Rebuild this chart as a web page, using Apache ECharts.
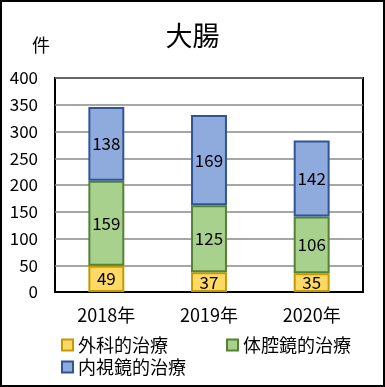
<!DOCTYPE html>
<html><head><meta charset="utf-8">
<script src="https://cdn.jsdelivr.net/npm/echarts@6/dist/echarts.min.js"></script>
<style>html,body{margin:0;padding:0;background:#fff}#c{width:385px;height:387px}</style>
</head><body><div id="c"></div>
<script>
const categories = ['2018年', '2019年', '2020年'];
const surgical = [49, 37, 35];
const laparoscopic = [159, 125, 106];
const endoscopic = [138, 169, 142];
const yTicks = [0, 50, 100, 150, 200, 250, 300, 350, 400];

const FONT = '"Noto Sans CJK JP", "Noto Sans", sans-serif';
const chart = echarts.init(document.getElementById('c'));
const label = {show: true, position: 'inside', color: '#000', fontSize: 17, fontFamily: FONT};
const legText = {fontSize: 18, color: '#000', fontFamily: FONT};
chart.setOption({
  animation: false,
  textStyle: {fontFamily: FONT},
  title: {text: '大腸', left: 'center', top: 17, textStyle: {fontSize: 27, fontWeight: 'normal', color: '#000', fontFamily: FONT}},
  graphic: [
    {type: 'rect', shape: {x: 1, y: 1, width: 383, height: 385}, style: {fill: 'none', stroke: '#000', lineWidth: 2}, z: 100},
    {type: 'text', left: 32, top: 36, style: {text: '件', fontSize: 18, fill: '#000', fontFamily: FONT}}
  ],
  grid: {left: 55, right: 22, top: 78, bottom: 95, show: true, borderColor: '#000', borderWidth: 2, backgroundColor: 'transparent'},
  legend: [
    {data: ['外科的治療'], left: 56, top: 331, itemWidth: 11, itemHeight: 11, icon: 'rect', textStyle: legText},
    {data: ['体腔鏡的治療'], left: 221, top: 331, itemWidth: 11, itemHeight: 11, icon: 'rect', textStyle: legText},
    {data: ['内視鏡的治療'], left: 56, top: 353, itemWidth: 11, itemHeight: 11, icon: 'rect', textStyle: legText}
  ],
  xAxis: {type: 'category', data: categories, axisTick: {show: false}, axisLine: {lineStyle: {color: '#000', width: 2}},
    axisLabel: {color: '#000', fontSize: 18, margin: 14, fontFamily: FONT}},
  yAxis: {type: 'value', min: yTicks[0], max: yTicks[yTicks.length - 1], interval: 50,
    axisLine: {show: false}, axisTick: {show: false},
    axisLabel: {color: '#000', fontSize: 17, margin: 17, fontFamily: FONT},
    splitLine: {lineStyle: {color: '#888', width: 1.5}}},
  series: [
    {name: '外科的治療', type: 'bar', stack: 't', data: surgical, barWidth: '35%', label,
      itemStyle: {color: '#FFD966', borderColor: '#C59A00', borderWidth: 2}},
    {name: '体腔鏡的治療', type: 'bar', stack: 't', data: laparoscopic, label,
      itemStyle: {color: '#A9D18E', borderColor: '#548235', borderWidth: 2}},
    {name: '内視鏡的治療', type: 'bar', stack: 't', data: endoscopic, label,
      itemStyle: {color: '#8FAADC', borderColor: '#2F5597', borderWidth: 2}}
  ]
});
</script></body></html>
